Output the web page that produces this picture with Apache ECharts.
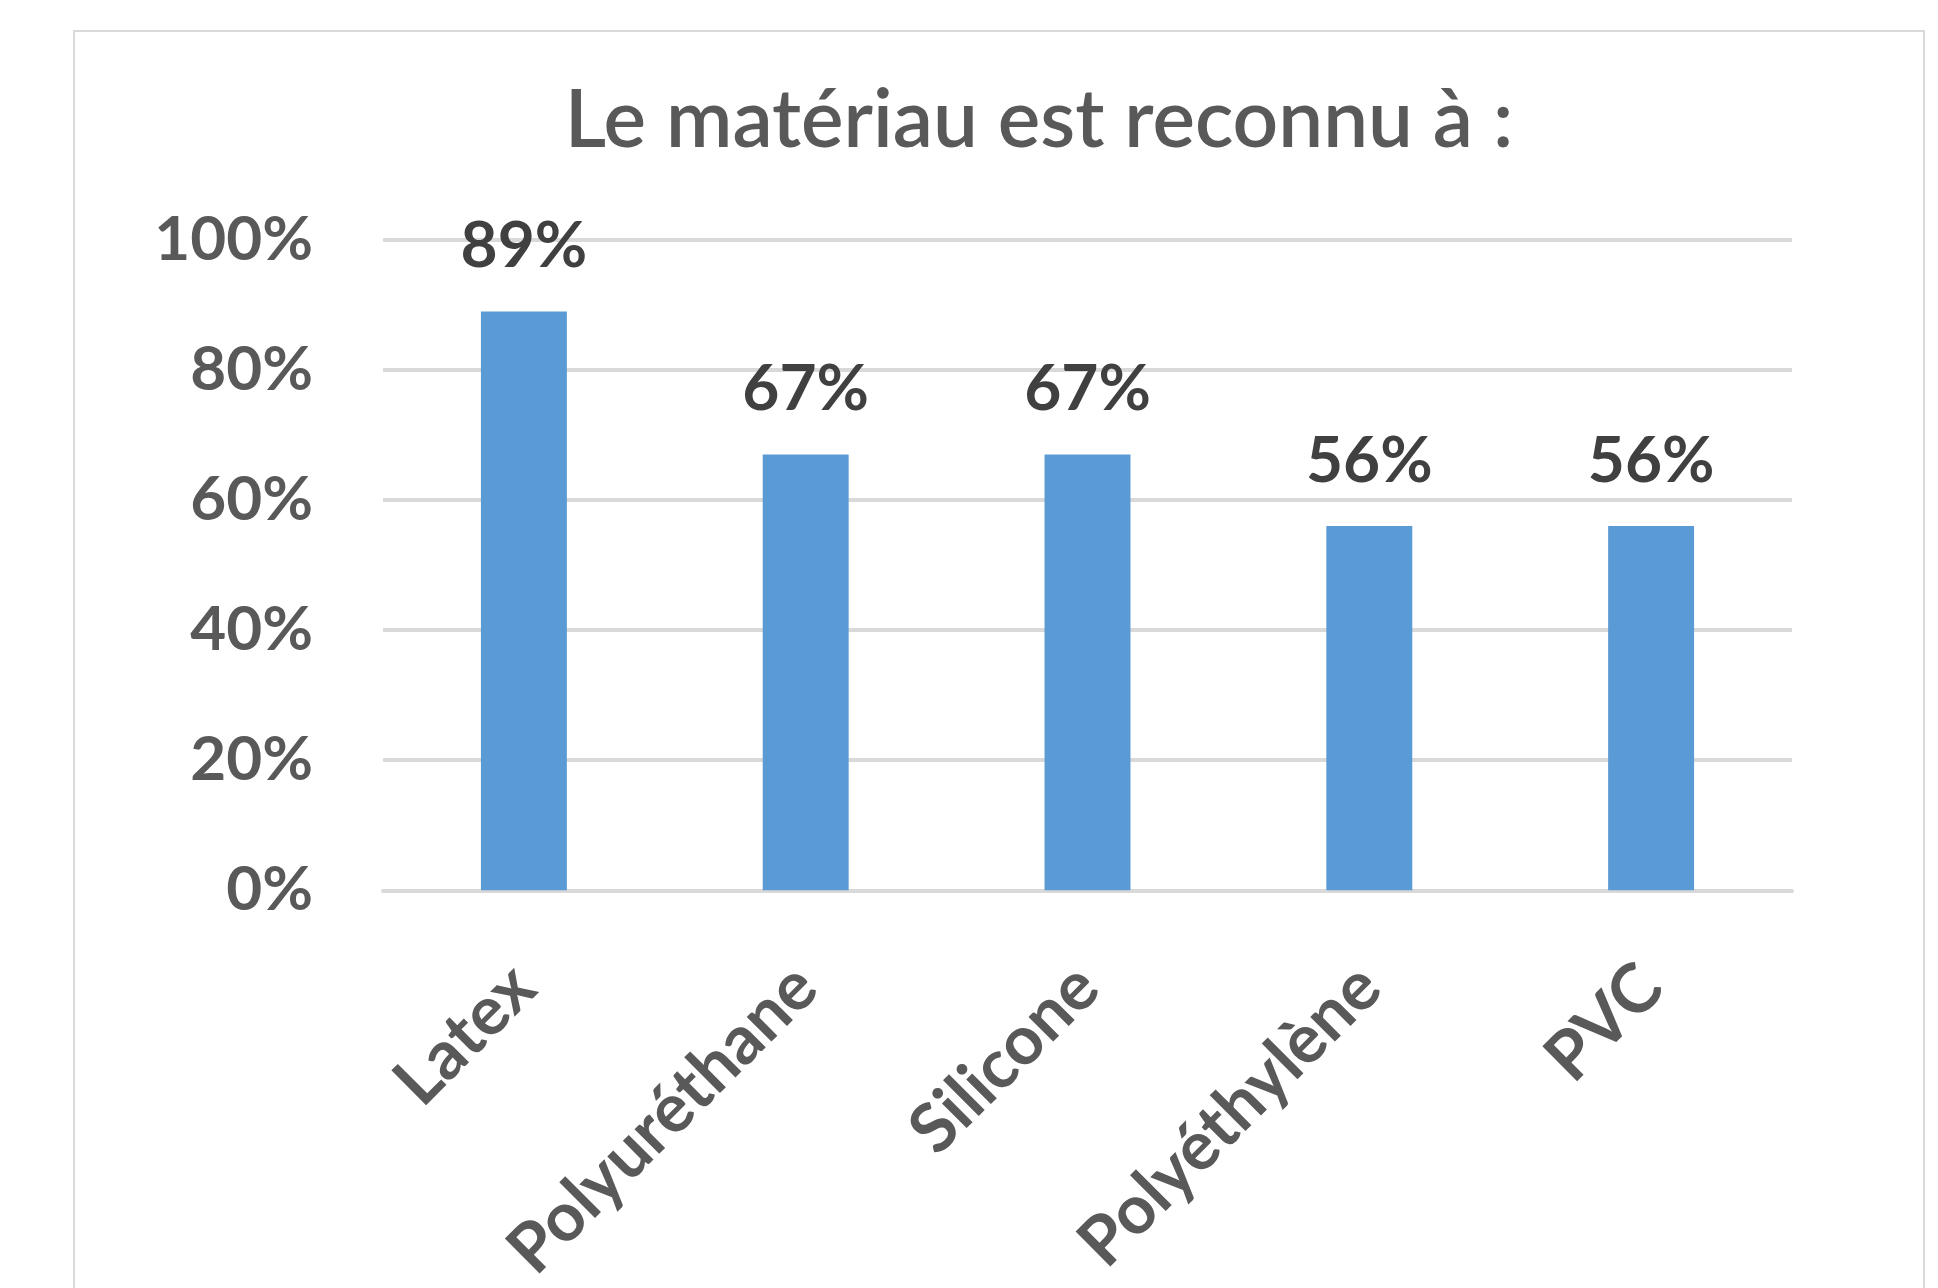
<html>
<head>
    <meta charset="utf-8">
    <title>Le matériau est reconnu à :</title>
    <script src="https://cdn.jsdelivr.net/npm/echarts@6/dist/echarts.min.js"></script>
    <style>
    * { box-sizing: border-box; }
    body { margin: 0; background: #fff; }
    #main { width: 1938px; height: 1288px; }
    </style>
</head>
<body>
    <div id="main"></div>
    <script type="text/javascript">
    // données du graphique
    var categories = ['Latex', 'Polyuréthane', 'Silicone', 'Polyéthylène', 'PVC'];
    var values = [0.89, 0.67, 0.67, 0.56, 0.56];
    var yTicks = [0, 0.2, 0.4, 0.6, 0.8, 1];

    var myChart = echarts.init(document.getElementById('main'));

    var option = {
        backgroundColor: '#fff',
        textStyle: { fontFamily: 'Lato' },
        title: {
            text: 'Le matériau est reconnu à :',
            left: 1034,
            textAlign: 'center',
            top: 76,
            textStyle: {
                fontFamily: 'Lato',
                fontSize: 80,
                fontWeight: 600,
                color: '#595959'
            }
        },
        graphic: [{
            type: 'rect',
            shape: { x: 74, y: 31, width: 1850, height: 1300 },
            style: { fill: 'none', stroke: '#d9d9d9', lineWidth: 2 },
            z: -1
        }],
        grid: { left: 383, right: 146, top: 240, bottom: 396 },
        xAxis: {
            type: 'category',
            data: categories,
            axisLine: { show: true, lineStyle: { color: '#d9d9d9', width: 4 } },
            axisTick: { show: false },
            axisLabel: {
                rotate: 45,
                margin: 86,
                interval: 0,
                fontSize: 68,
                fontWeight: 'bold',
                color: '#595959'
            }
        },
        yAxis: {
            type: 'value',
            min: 0,
            max: 1,
            interval: 0.2,
            axisLine: { show: false },
            axisTick: { show: false },
            splitLine: { lineStyle: { color: '#d9d9d9', width: 4 } },
            axisLabel: {
                margin: 70,
                fontSize: 62,
                fontWeight: 'bold',
                color: '#595959',
                formatter: function (v) {
                    return yTicks.indexOf(v) >= 0 ? Math.round(v * 100) + '%' : '';
                }
            }
        },
        series: [{
            type: 'bar',
            data: values,
            barWidth: '30.5%',
            itemStyle: { color: '#5b9bd5' },
            label: {
                show: true,
                position: 'top',
                distance: 33,
                fontSize: 64,
                fontWeight: 'bold',
                color: '#404040',
                formatter: function (p) {
                    return Math.round(p.value * 100) + '%';
                }
            }
        }]
    };
    myChart.setOption(option);
    </script>
</body>
</html>
